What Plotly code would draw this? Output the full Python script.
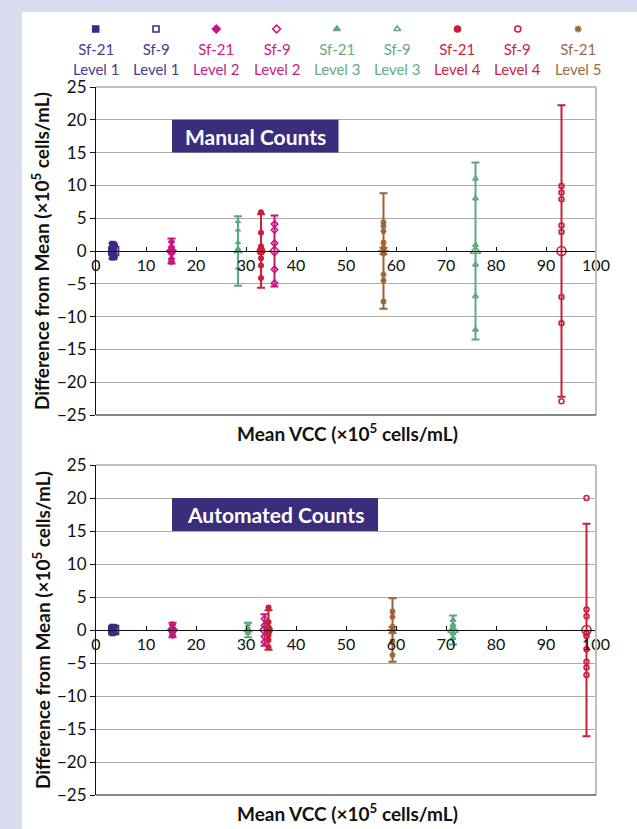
import plotly.graph_objects as go

# ---------------- data ----------------
series_line1 = ["Sf-21", "Sf-9", "Sf-21", "Sf-9", "Sf-21", "Sf-9", "Sf-21", "Sf-9", "Sf-21"]
series_line2 = ["Level 1", "Level 1", "Level 2", "Level 2", "Level 3", "Level 3", "Level 4", "Level 4", "Level 5"]
series_colors = ["#3b2a80", "#3b2a80", "#c8157f", "#c8157f", "#5aa97f", "#5aa97f", "#c81f3a", "#c81f3a", "#9c6232"]
text_colors = ["#4a3a8e", "#4a3a8e", "#cc1a85", "#cc1a85", "#62ac86", "#62ac86", "#cc2440", "#cc2440", "#9e6a40"]
series_symbols = ["square", "square-open", "diamond", "diamond-open", "triangle-up",
                  "triangle-up-open", "circle", "circle-open", "asterisk-open"]

# Manual counts: mean VCC, error-bar half range, differences from mean
manual_mean = [3.3, 3.6, 15.1, 35.7, 28.4, 75.9, 33.0, 93.1, 57.5]
manual_range = [1.2, 1.0, 1.9, 5.4, 5.3, 13.5, 5.6, 22.2, 8.8]
manual_diffs = [
    [1.1, 0.7, 0.3, -0.2, -0.6, -1.0],
    [0.9, 0.4, -0.4, -0.9],
    [1.4, 0.6, 0.2, -0.4, -1.2, -1.6],
    [4.1, 3.2, 1.2, -2.8, -4.9],
    [4.5, 3.2, 1.3, 0.4, -2.6],
    [11.0, 8.0, 0.9, -2.1, -6.9, -12.0],
    [5.9, 2.8, 0.7, -1.1, -2.2, -4.1],
    [9.9, 8.9, 7.9, 3.9, 2.9, -7.0, -11.0, -22.9],
    [4.4, 3.8, 3.0, 1.3, 0.5, -0.4, -3.6, -4.5, -7.7],
]

# Automated counts
auto_mean = [3.3, 3.6, 15.3, 33.7, 30.4, 71.4, 34.5, 98.1, 59.3]
auto_range = [0.6, 0.5, 1.1, 2.4, 1.1, 2.2, 3.0, 16.1, 4.8]
auto_diffs = [
    [0.5, 0.2, -0.2, -0.5],
    [0.4, 0.1, -0.3],
    [0.8, 0.3, -0.4, -0.8],
    [1.7, 0.7, -1.0, -1.8],
    [0.8, 0.3, -0.3, -0.5],
    [1.5, 0.8, 0.3, -0.5, -1.2],
    [3.4, 1.2, 0.4, -0.8, -1.5, -2.6],
    [20.0, 3.1, 2.1, -0.5, -0.9, -2.9, -4.8, -5.7, -6.8],
    [2.8, 2.0, 0.5, -0.25, -1.7, -3.8],
]

panel_titles = ["Manual Counts", "Automated Counts"]
title_box_x = [(15.2, 48.5), (15.2, 56.4)]
x_ticks = [0, 10, 20, 30, 40, 50, 60, 70, 80, 90, 100]
y_ticks = [-25, -20, -15, -10, -5, 0, 5, 10, 15, 20, 25]
x_title = "Mean VCC (×10<sup>5</sup> cells/mL)"
y_title = "Difference from Mean (×10<sup>5</sup> cells/mL)"

# ---------------- layout helpers ----------------
W, H = 637, 829
FONT = "Lato"


def fx(p):
    return p / W


def fy(p):
    return 1 - p / H


x_dom = [fx(96), fx(596)]
panels = [
    dict(mean=manual_mean, rng=manual_range, diffs=manual_diffs, top=87, bot=415, xa="x", ya="y"),
    dict(mean=auto_mean, rng=auto_range, diffs=auto_diffs, top=465, bot=795, xa="x2", ya="y2"),
]

fig = go.Figure()

for pi, p in enumerate(panels):
    for i in range(len(series_colors)):
        c = series_colors[i]
        sym = series_symbols[i]
        is_open = sym.endswith("open")
        mean_size = 7 if sym == "diamond-open" else 9
        # mean marker with range bar
        fig.add_trace(go.Scatter(
            x=[p["mean"][i]], y=[0], mode="markers", xaxis=p["xa"], yaxis=p["ya"],
            marker=dict(symbol=sym, size=mean_size, color=c,
                        line=dict(color=c, width=1.6 if is_open else 0)),
            error_y=dict(type="data", array=[p["rng"][i]], symmetric=True,
                         color=c, thickness=2, width=4),
            showlegend=False, hoverinfo="skip", cliponaxis=False))
        # individual differences
        fig.add_trace(go.Scatter(
            x=[p["mean"][i]] * len(p["diffs"][i]), y=p["diffs"][i], mode="markers",
            xaxis=p["xa"], yaxis=p["ya"],
            marker=dict(symbol=sym, size=5 if is_open else 6, color=c,
                        line=dict(color=c, width=1.5 if is_open else 0)),
            showlegend=False, hoverinfo="skip", cliponaxis=False))

# legend markers
fig.add_trace(go.Scatter(
    x=list(range(len(series_colors))), y=[0] * len(series_colors), mode="markers",
    xaxis="x3", yaxis="y3",
    marker=dict(symbol=series_symbols, size=6, color=series_colors,
                line=dict(color=series_colors, width=1.6)),
    showlegend=False, hoverinfo="skip", cliponaxis=False))

axis_font = dict(family=FONT, size=16, color="#111111")
layout = dict(
    width=W, height=H, margin=dict(l=0, r=0, t=0, b=0, pad=0),
    paper_bgcolor="white", plot_bgcolor="white", showlegend=False,
    template="none",
    font=dict(family=FONT, color="#111111"),
)

shapes = [
    dict(type="rect", xref="paper", yref="paper", x0=0, x1=1, y0=fy(12), y1=1,
         fillcolor="#d9dcef", line=dict(width=0), layer="below"),
    dict(type="rect", xref="paper", yref="paper", x0=0, x1=fx(22), y0=0, y1=1,
         fillcolor="#d9dcef", line=dict(width=0), layer="below"),
]
annotations = []

for pi, p in enumerate(panels):
    n = "" if pi == 0 else "2"
    ydom = [fy(p["bot"]), fy(p["top"])]
    layout["xaxis" + n] = dict(
        domain=x_dom, range=[0, 100], anchor="free", position=(ydom[0] + ydom[1]) / 2,
        tickmode="array", tickvals=x_ticks, ticks="inside", ticklen=4, tickcolor="#111111",
        showline=True, linecolor="#111111", linewidth=1, showgrid=False, zeroline=False,
        tickfont=axis_font, automargin=False, fixedrange=True)
    layout["yaxis" + n] = dict(
        domain=ydom, range=[-25, 25], anchor="x" + n,
        tickmode="array", tickvals=y_ticks, ticks="outside", ticklen=5, tickcolor="#111111",
        showline=True, linecolor="#111111", linewidth=1.2, showgrid=True,
        gridcolor="#ababab", gridwidth=1.3, zeroline=False,
        tickfont=dict(family=FONT, size=17, color="#111111"), automargin=False, fixedrange=True)
    xa, ya = p["xa"], p["ya"]
    # frame: top + right gray, bottom black
    shapes += [
        dict(type="line", xref=xa + " domain", yref=ya + " domain", x0=0, x1=1, y0=1, y1=1,
             line=dict(color="#aaaaaa", width=1.5)),
        dict(type="line", xref=xa + " domain", yref=ya + " domain", x0=1, x1=1, y0=0, y1=1,
             line=dict(color="#bdbdbd", width=2)),
        dict(type="line", xref=xa + " domain", yref=ya + " domain", x0=0, x1=1, y0=0, y1=0,
             line=dict(color="#111111", width=1.2)),
        dict(type="rect", xref=xa, yref=ya, x0=title_box_x[pi][0], x1=title_box_x[pi][1],
             y0=15, y1=20, fillcolor="#3a2d7c", line=dict(width=0), layer="above"),
    ]
    annotations += [
        dict(text="<b>" + panel_titles[pi] + "</b>", xref=xa, yref=ya,
             x=(title_box_x[pi][0] + title_box_x[pi][1]) / 2, y=17.5, showarrow=False,
             font=dict(family=FONT, size=21, color="white"), xanchor="center", yanchor="middle"),
        dict(text="<b>" + x_title + "</b>", xref="paper", yref="paper", x=fx(347),
             y=fy(p["bot"] + 17), showarrow=False, xanchor="center", yanchor="middle",
             font=dict(family=FONT, size=19, color="#111111")),
        dict(text="<b>" + y_title + "</b>", xref="paper", yref="paper", x=fx(41),
             y=(ydom[0] + ydom[1]) / 2, showarrow=False, textangle=-90,
             xanchor="center", yanchor="middle",
             font=dict(family=FONT, size=19, color="#111111")),
    ]

# legend axes
leg_step = 60.3
leg_x0 = 95.7
layout["xaxis3"] = dict(domain=[fx(leg_x0 - leg_step / 2), fx(leg_x0 + 8.5 * leg_step)],
                        range=[-0.5, 8.5], visible=False, anchor="y3", fixedrange=True)
layout["yaxis3"] = dict(domain=[fy(34), fy(24)], range=[-1, 1], visible=False,
                        anchor="x3", fixedrange=True)
for i in range(len(series_colors)):
    annotations.append(dict(
        text=series_line1[i] + "<br>" + series_line2[i], xref="x3", yref="paper",
        x=i, y=fy(59), showarrow=False, xanchor="center", yanchor="middle",
        font=dict(family=FONT, size=15, color=text_colors[i])))

layout["shapes"] = shapes
layout["annotations"] = annotations
fig.update_layout(**layout)

fig.write_html("out.html")
